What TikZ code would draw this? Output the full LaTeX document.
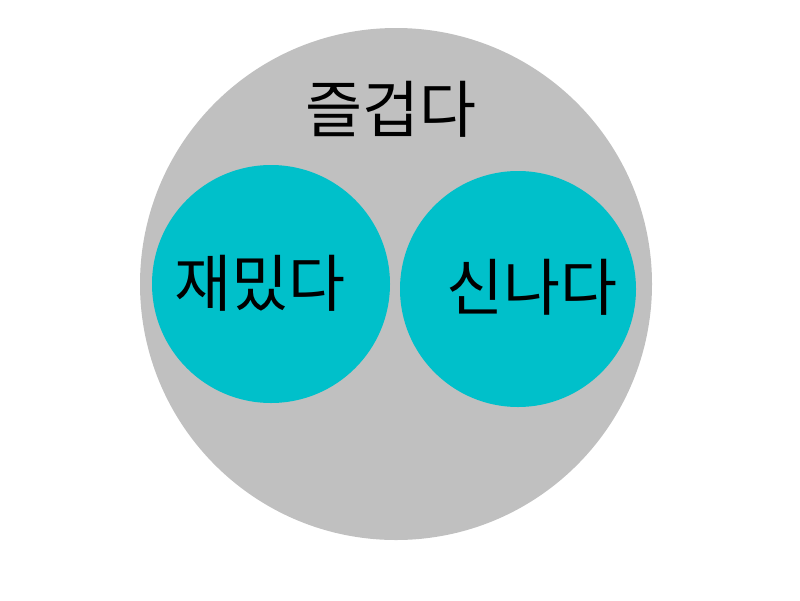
\documentclass[tikz,border=0pt]{standalone}
\usepackage{fontspec}
\newfontfamily\kr{Noto Sans CJK KR}
\definecolor{biggray}{HTML}{C0C0C0}
\definecolor{tealc}{HTML}{00C0CA}
\begin{document}
\begin{tikzpicture}[x=1pt,y=-1pt,
  outer/.style={circle,fill=biggray,inner sep=0pt,minimum size=512pt},
  inner/.style={circle,fill=tealc,inner sep=0pt},
  lbl/.style={font=\kr\fontsize{62}{64}\selectfont,inner sep=0pt,text=black}]
\useasboundingbox (0,0) rectangle (800,600);
\node[outer] (big) at (396,284) {};
\node[inner,minimum size=238pt] (left) at (271,284) {};
\node[inner,minimum size=236pt] (right) at (518,289) {};
\node[lbl] (t1) at (391,109) {즐겁다};
\node[lbl] (t2) at (260,283) {재밌다};
\node[lbl] (t3) at (532,287) {신나다};
\end{tikzpicture}
\end{document}
